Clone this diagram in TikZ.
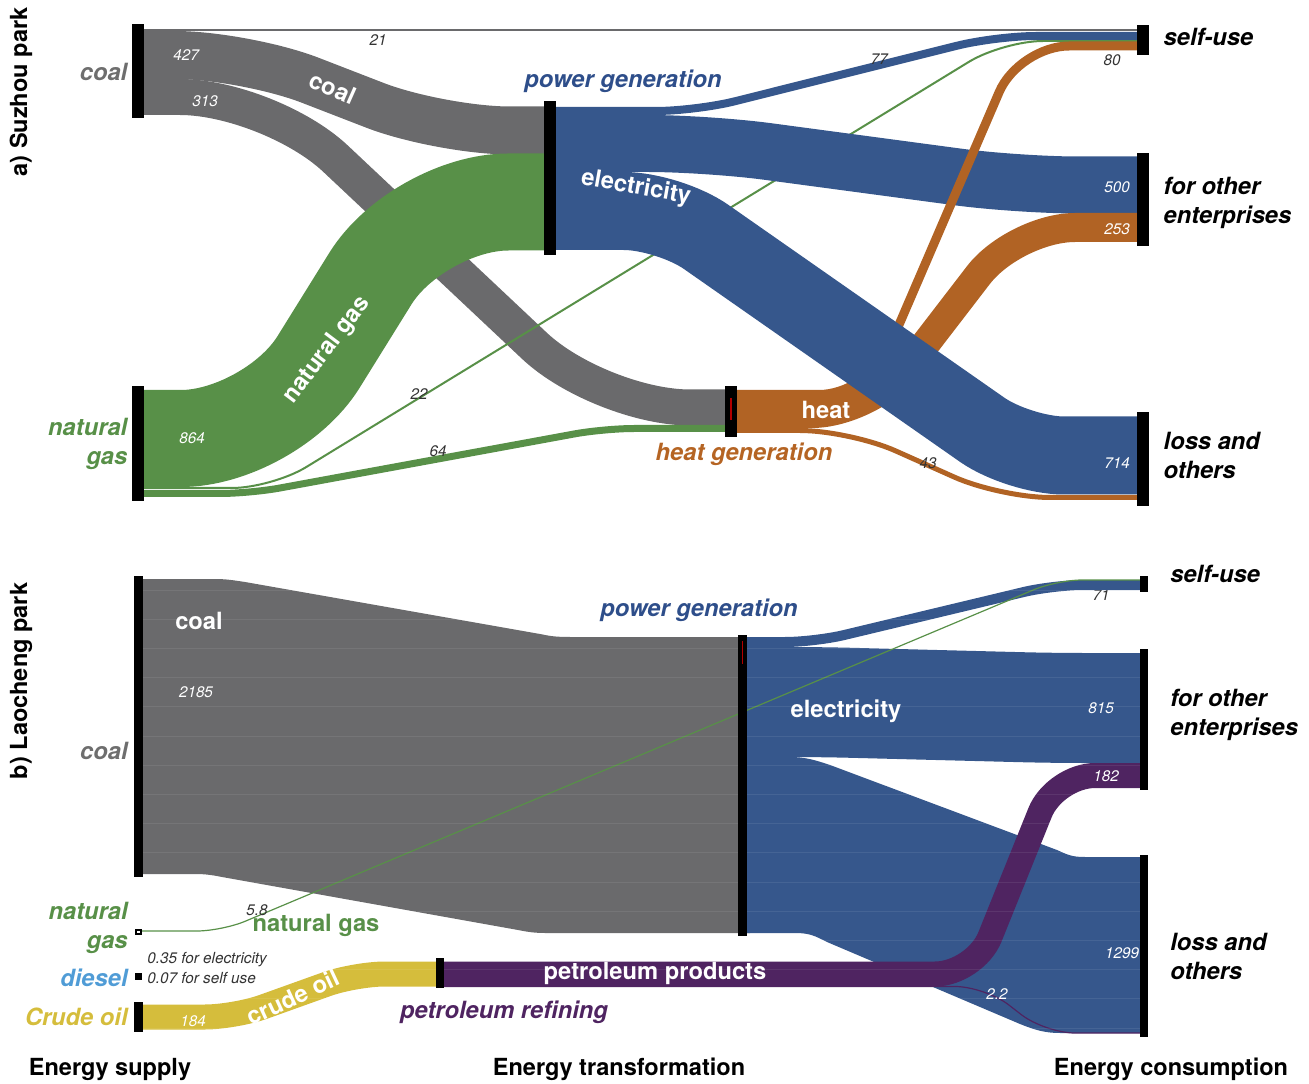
\documentclass[tikz,border=0pt]{standalone}
\usepackage{fontspec}
\setmainfont{TeX Gyre Heros}
\usetikzlibrary{positioning}
\definecolor{coalgray}{RGB}{106,106,108}
\definecolor{gasgreen}{RGB}{88,144,72}
\definecolor{elecblue}{RGB}{54,87,140}
\definecolor{heatorange}{RGB}{177,99,36}
\definecolor{petpurple}{RGB}{79,36,97}
\definecolor{oilyellow}{RGB}{213,189,60}
\definecolor{dieselblue}{RGB}{80,156,214}
\definecolor{powerlab}{RGB}{46,78,138}
\definecolor{heatlab}{RGB}{181,100,35}
\definecolor{coallab}{RGB}{110,110,110}
\begin{document}
\begin{tikzpicture}[x=0.02cm, y=-0.02cm,
    every node/.style={inner sep=0pt},
    bar/.style 2 args={fill=black, minimum width=#1*0.02cm, minimum height=#2*0.02cm},
    band/.style={line width=#1*0.02cm},
    rc/.style={rounded corners=#1*0.02cm},
    stage/.style={font=\fontsize{13.5}{16.5}\selectfont\bfseries\itshape},
    flowlab/.style={font=\fontsize{13.5}{16.5}\selectfont\bfseries, text=white},
    num/.style={font=\fontsize{8.7}{10.5}\selectfont\itshape, text=white},
    numd/.style={num, text=black!80},
    footlab/.style={font=\fontsize{13.4}{16}\selectfont\bfseries}]
    \useasboundingbox (0,0) rectangle (1309,1084);

    % a) Suzhou park: flows
    \draw[coalgray, band=2] (144,30) -- (1137,30);
    \draw[coalgray, band=48, rc=70] (144,55) -- (245,55) -- (440,130.5) -- (544,130.5);
    \draw[coalgray, band=36, rc=90] (144,97) -- (270,97) -- (600,407.5) -- (725,407.5);
    \draw[gasgreen, band=2, rc=40] (144,488) -- (272,488) -- (1003,41) -- (1137,41);
    \draw[gasgreen, band=7, rc=30] (144,493.5) -- (250,493.5) -- (604,428.5) -- (725,428.5);
    \draw[gasgreen, band=97, rc=90] (144,438.5) -- (271,438.5) -- (418,202) -- (544,202);
    \draw[elecblue, band=8, rc=40] (556,111) -- (696,111) -- (996,36) -- (1137,36);
    \draw[elecblue, band=57, rc=60] (556,143.5) -- (708,143.5) -- (1018,185) -- (1137,185);
    \draw[heatorange, band=9, rc=50] (737,394.5) -- (869,394.5) -- (1019,46) -- (1137,46);
    \draw[heatorange, band=29, rc=60] (737,413.5) -- (872,413.5) -- (1015,227.5) -- (1137,227.5);
    \draw[heatorange, band=5, rc=50] (737,430.5) -- (850,430.5) -- (1000,497.5) -- (1137,497.5);
    \draw[elecblue, band=78, rc=45] (556,211) -- (669,211) -- (1019,455.5) -- (1137,455.5);

    % b) Laocheng park: flows
    \node[numd] at (1101,595) {71};
    \fill[coalgray] (136,579) -- (215,579) .. controls (225,579) and (232,580) .. (245,582)
        -- (540,634) .. controls (550,636) and (555,637) .. (570,637) -- (750,637)
        -- (750,933) -- (545,933) .. controls (535,933) and (528,932) .. (518,930)
        -- (222,877) .. controls (212,875) and (205,874) .. (195,874) -- (136,874) -- cycle;
    \fill[elecblue] (740,757) -- (790,757) .. controls (805,757) and (815,760) .. (830,765)
        -- (1057,850) .. controls (1068,855) and (1072,857) .. (1085,857) -- (1144,857)
        -- (1144,1033) -- (1060,1033) .. controls (1045,1033) and (1035,1030) .. (1020,1024)
        -- (827,942) .. controls (815,936) and (810,933) .. (795,933) -- (740,933) -- cycle;
    \draw[elecblue, band=10, rc=30] (746,642) -- (815,642) -- (1053,585) -- (1140,585);
    \draw[elecblue, band=110, rc=30] (746,702) -- (820,702) -- (1053,708) -- (1140,708);
    \draw[oilyellow, band=25, rc=30] (143,1017) -- (235,1017) -- (355,974) -- (436,974);
    \draw[petpurple, band=25, rc=40] (444,974) -- (975,974) -- (1055,775.5) -- (1140,775.5);
    \draw[petpurple, band=1.2, rc=30] (444,986.5) -- (985,986.5) -- (1045,1033) -- (1140,1033);
    \draw[gasgreen, band=1.2, rc=25] (141,931) -- (222,931) -- (1057,580) -- (1140,580);
    \foreach \y in {590,619.2,...,1030}
        \draw[white, opacity=0.08, line width=0.5pt] (143,\y) -- (1140,\y);

    % bars
    \node[bar={12}{94}] (aCoal) at (138,71.5) {};
    \node[bar={12}{115}] (aGas) at (138,443.5) {};
    \node[bar={12}{154}] (aPower) at (550,178) {};
    \node[bar={12}{51}] (aHeat) at (731,411.5) {};
    \node[bar={12}{30}] (aSelf) at (1143,40) {};
    \node[bar={12}{93}] (aOther) at (1143,199.5) {};
    \node[bar={12}{94}] (aLoss) at (1143,459) {};
    \node[bar={9}{301}] (bCoal) at (138.5,726.5) {};
    \node[bar={7}{6}] (bGas) at (138.5,932) {};
    \node[fill=white, minimum size=0.05cm] at (bGas) {};
    \node[bar={7}{7}] (bDiesel) at (138.5,976.5) {};
    \node[bar={9}{30}] (bOil) at (138.5,1017) {};
    \node[bar={9}{301}] (bPower) at (742,785.5) {};
    \node[bar={8}{30}] (bRefine) at (440,973) {};
    \node[bar={8}{16}] (bSelf) at (1144,584) {};
    \node[bar={8}{141}] (bOther) at (1144,719.5) {};
    \node[bar={8}{182}] (bLoss) at (1144,946) {};
    \draw[red!70!black, line width=0.6pt] (731,398) -- (731,420);
    \draw[red!70!black, line width=0.6pt] (742.5,641) -- (742.5,664);

    % a) labels
    \node[stage, text=coallab, left=0.08cm of aCoal] {coal};
    \node[stage, text=gasgreen, left=0.08cm of aGas, align=right] {natural\\gas};
    \node[stage, text=powerlab] at (623,81) {power generation};
    \node[stage, text=heatlab] at (744,454) {heat generation};
    \node[stage, right=0.28cm of aSelf, yshift=0.06cm] {self-use};
    \node[stage, right=0.28cm of aOther, yshift=-0.06cm, align=left] {for other\\enterprises};
    \node[stage, right=0.28cm of aLoss, yshift=0.07cm, align=left] {loss and\\others};
    \node[num] at (186,55) {427};
    \node[num] at (205,101) {313};
    \node[flowlab, rotate=-24] at (333,88) {coal};
    \node[numd] at (378,40) {21};
    \node[num] at (192,438) {864};
    \node[flowlab, rotate=53] at (327,350) {natural gas};
    \node[numd] at (419,394) {22};
    \node[numd] at (438,451) {64};
    \node[flowlab, rotate=-10] at (636,188) {electricity};
    \node[flowlab] at (826,410) {heat};
    \node[numd] at (879,59) {77};
    \node[numd] at (1112,60) {80};
    \node[num] at (1117,187) {500};
    \node[num] at (1117,229) {253};
    \node[num] at (1117,463) {714};
    \node[numd] at (928,463) {43};

    % b) labels
    \node[stage, text=coallab, anchor=east] at (128,751) {coal};
    \node[stage, text=gasgreen, anchor=east, align=right] at (128,928) {natural\\gas};
    \node[stage, text=dieselblue, anchor=east] at (128,978) {diesel};
    \node[stage, text=oilyellow, anchor=east] at (128,1017) {Crude oil};
    \node[stage, text=powerlab] at (699,610) {power generation};
    \node[stage, text=petpurple] at (504,1012) {petroleum refining};
    \node[stage, anchor=west] at (1170,574) {self-use};
    \node[stage, anchor=west, align=left] at (1170,715) {for other\\enterprises};
    \node[stage, anchor=west, align=left] at (1170,956) {loss and\\others};
    \node[flowlab] at (199,621) {coal};
    \node[num] at (196,692) {2185};
    \node[numd] at (257,910) {5.8};
    \node[flowlab, text=gasgreen] at (316,925) {natural gas};
    \node[numd, anchor=west] at (147,960) {0.35 for electricity};
    \node[numd, anchor=west] at (147,978) {0.07 for self use};
    \node[num] at (193,1021) {184};
    \node[flowlab, rotate=25] at (293,997) {crude oil};
    \node[flowlab] at (655,973) {petroleum products};
    \node[flowlab] at (846,711) {electricity};
    \node[num] at (1101,708) {815};
    \node[num] at (1106,776) {182};
    \node[num] at (1122,953) {1299};
    \node[num] at (997,994) {2.2};

    % axis captions
    \node[footlab, rotate=90] at (21,92) {a) Suzhou park};
    \node[footlab, rotate=90] at (21,681) {b) Laocheng park};
    \node[footlab] at (110,1069) {Energy supply};
    \node[footlab] at (619,1069) {Energy transformation};
    \node[footlab] at (1171,1069) {Energy consumption};
\end{tikzpicture}
\end{document}
